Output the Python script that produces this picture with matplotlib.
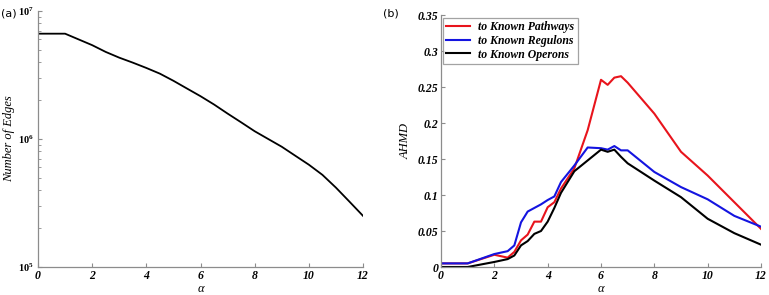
import math
import matplotlib
matplotlib.use("Agg")
import matplotlib.pyplot as plt
from matplotlib.ticker import FixedLocator, LogLocator, NullFormatter, FuncFormatter

plt.rcParams['mathtext.fontset'] = 'custom'
plt.rcParams['mathtext.it'] = 'Liberation Serif:italic:bold'
plt.rcParams['mathtext.rm'] = 'Liberation Serif:bold'
plt.rcParams['mathtext.default'] = 'it'

# ---- data: panel (a) ----
alpha_a = [0, 1, 2, 2.5, 3, 3.5, 4, 4.5, 5, 5.5, 6, 6.5, 7, 7.5, 8, 8.5,
           9, 9.5, 10, 10.5, 11, 11.5, 12]
edges = [6.65e6, 6.65e6, 5.41e6, 4.79e6, 4.32e6, 3.95e6, 3.59e6, 3.24e6,
         2.85e6, 2.48e6, 2.16e6, 1.86e6, 1.58e6, 1.35e6, 1.15e6, 1.0e6,
         8.7e5, 7.4e5, 6.3e5, 5.25e5, 4.17e5, 3.24e5, 2.51e5]

# ---- data: panel (b) ----
alpha_b = [0, 1, 2, 2.5, 2.75, 3, 3.25, 3.5, 3.75, 4, 4.25, 4.5, 5, 5.5,
           6, 6.25, 6.5, 6.75, 7, 8, 9, 10, 11, 12]
pathways = [0.005, 0.005, 0.017, 0.013, 0.021, 0.037, 0.045, 0.063, 0.063,
            0.083, 0.090, 0.109, 0.137, 0.19, 0.26, 0.253, 0.263, 0.265,
            0.256, 0.213, 0.16, 0.127, 0.09, 0.053]
regulons = [0.005, 0.005, 0.018, 0.022, 0.030, 0.062, 0.077, 0.082, 0.087,
            0.093, 0.098, 0.118, 0.141, 0.166, 0.165, 0.163, 0.168, 0.162,
            0.162, 0.132, 0.111, 0.094, 0.071, 0.056]
operons = [0.0, 0.0, 0.007, 0.011, 0.016, 0.030, 0.036, 0.046, 0.050,
           0.063, 0.082, 0.103, 0.133, 0.148, 0.163, 0.160, 0.163, 0.153,
           0.144, 0.12, 0.097, 0.067, 0.047, 0.031]
series_labels = ['to Known Pathways', 'to Known Regulons', 'to Known Operons']
series_colors = ['#e8141c', '#1414e0', '#000000']

xticks = [0, 2, 4, 6, 8, 10, 12]

W, H = 769, 295
fig = plt.figure(figsize=(W / 100, H / 100), dpi=100)

tickfont = dict(family='Liberation Serif', style='italic', weight='bold', size=8.5)
spine_col = '#8c8c8c'

def style_axes(ax):
    for s in ['top', 'right']:
        ax.spines[s].set_visible(False)
    for s in ['left', 'bottom']:
        ax.spines[s].set_color(spine_col)
        ax.spines[s].set_linewidth(0.9)
    ax.tick_params(which='both', direction='in', colors=spine_col, labelcolor='black')
    ax.tick_params(which='major', length=3, width=0.8, pad=2)
    ax.tick_params(which='minor', length=2, width=0.6)
    ax.set_xticks(xticks)
    ax.set_xticklabels([str(t) for t in xticks], fontdict=tickfont)
    ax.set_xlim(0, 12)
    ax.set_xlabel('α', family='Liberation Serif', style='italic', fontsize=9, labelpad=1)

# Panel (a)
ax1 = fig.add_axes([38 / W, (H - 267) / H, 325 / W, 256 / H])
ax1.plot(alpha_a, edges, color='black', lw=1.3)
ax1.set_yscale('log')
ax1.set_ylim(1e5, 1e7)
style_axes(ax1)
ax1.yaxis.set_major_locator(FixedLocator([1e5, 1e6, 1e7]))
ax1.yaxis.set_major_formatter(FuncFormatter(lambda v, p: r'$10^{%d}$' % round(math.log10(v))))
ax1.yaxis.set_minor_locator(LogLocator(base=10, subs=range(2, 10)))
ax1.yaxis.set_minor_formatter(NullFormatter())
ax1.tick_params(axis='y', which='major', labelsize=7.5, pad=3)
ax1.set_ylabel('Number of Edges', family='Liberation Serif', style='italic', fontsize=9, labelpad=2)
fig.text(1 / W, 1 - 13 / H, '(a)', fontsize=8, family='DejaVu Sans', va='center', ha='left')

# Panel (b)
ax2 = fig.add_axes([441 / W, (H - 267) / H, 320 / W, 252 / H])
for y, lab, c in zip([pathways, regulons, operons], series_labels, series_colors):
    ax2.plot(alpha_b, y, color=c, lw=1.5, label=lab)
ax2.set_ylim(0, 0.35)
style_axes(ax2)
yt = [0, 0.05, 0.1, 0.15, 0.2, 0.25, 0.3, 0.35]
ax2.set_yticks(yt)
ax2.set_yticklabels(['0', '0.05', '0.1', '0.15', '0.2', '0.25', '0.3', '0.35'], fontdict=tickfont)
ax2.set_ylabel('AHMD', family='Liberation Serif', style='italic', fontsize=9, labelpad=4)
leg = ax2.legend(loc='upper left', bbox_to_anchor=(0.005, 0.99), frameon=True, fancybox=False,
                 prop=dict(family='Liberation Serif', style='italic', weight='bold', size=8.5),
                 handlelength=2.0, borderpad=0.3, labelspacing=0.15, handletextpad=0.7,
                 borderaxespad=0.0)
leg.get_frame().set_edgecolor(spine_col)
leg.get_frame().set_linewidth(0.9)
fig.text(383 / W, 1 - 13 / H, '(b)', fontsize=8, family='DejaVu Sans', va='center', ha='left')

fig.savefig('out.png', dpi=100)
